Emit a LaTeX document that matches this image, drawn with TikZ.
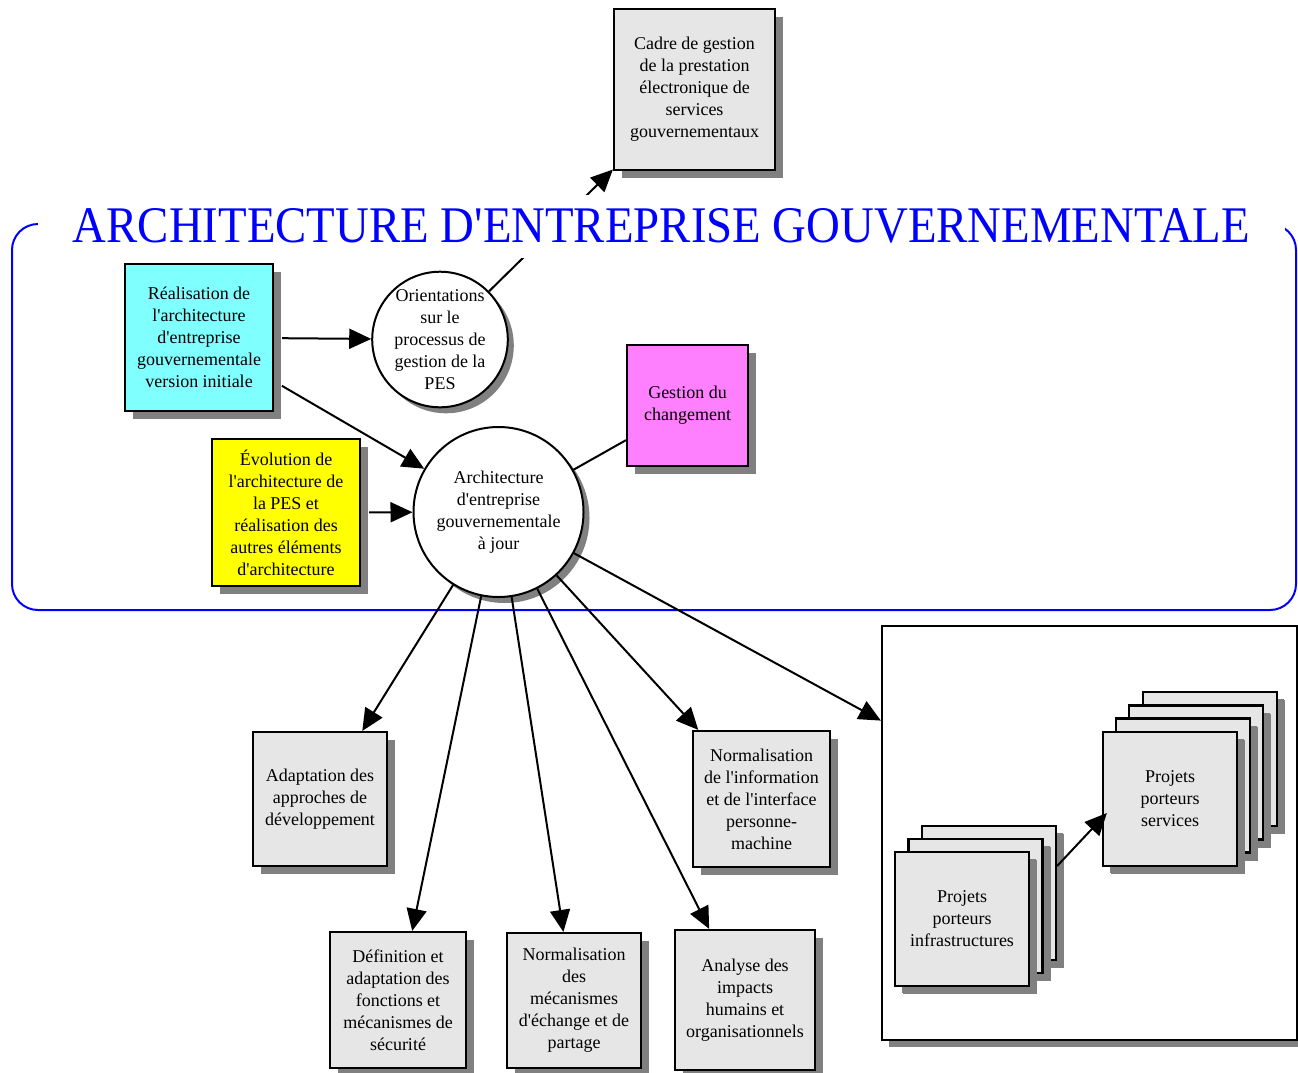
\documentclass[tikz,border=0pt]{standalone}
\usepackage{fontspec}
\setmainfont{Liberation Serif}[Ligatures=TeXOff]
\usetikzlibrary{arrows.meta,shadows}

\definecolor{boxgray}{RGB}{230,230,230}
\definecolor{shadowgray}{RGB}{128,128,128}
\definecolor{cyanfill}{RGB}{128,255,255}
\definecolor{yellowfill}{RGB}{255,255,0}
\definecolor{pinkfill}{RGB}{255,128,255}
\definecolor{titleblue}{RGB}{0,0,255}

\begin{document}
\begin{tikzpicture}[x=1pt,y=-1pt,
  every node/.style={font=\fontsize{18}{22}\selectfont, align=center, inner sep=0pt},
  boxshape/.style={rectangle, draw, line width=2.2pt, fill=boxgray,
    drop shadow={shadow xshift=8pt, shadow yshift=-8pt, fill=shadowgray, opacity=1}},
  stackbox/.style={boxshape, minimum width=134pt, minimum height=134pt,
    drop shadow={shadow xshift=7pt, shadow yshift=-7pt, fill=shadowgray, opacity=1}},
  roundnode/.style={circle, draw, line width=2pt, fill=white,
    drop shadow={shadow xshift=6pt, shadow yshift=-6pt, fill=shadowgray, opacity=1}},
  conn/.style={line width=2pt, -{Triangle[length=22pt,width=20pt]}},
  plainconn/.style={line width=2pt}
]
\useasboundingbox (0,0) rectangle (1298,1072);

% blue frame around the enterprise architecture
\draw[titleblue, line width=2pt, rounded corners=26pt] (12,224) rectangle (1296,610);

% top framework box
\node[boxshape, minimum width=161pt, minimum height=161pt] (cadre) at (694.5,89.5)
  {Cadre de gestion\\de la prestation\\électronique de\\services\\gouvernementaux};

% inputs
\node[boxshape, fill=cyanfill, minimum width=148pt, minimum height=147pt] (real) at (199,337.5)
  {Réalisation de\\l'architecture\\d'entreprise\\gouvernementale\\version initiale};
\node[boxshape, fill=yellowfill, minimum width=148pt, minimum height=147pt] (evol) at (286,512.5)
  {Évolution de\\l'architecture de\\la PES et\\réalisation des\\autres éléments\\d'architecture};
\node[boxshape, fill=pinkfill, minimum width=121pt, minimum height=121pt] (gest) at (687.5,405.5)
  {Gestion du\\changement};

% circles
\node[roundnode, minimum size=134pt] (orient) at (440,339.5)
  {Orientations\\sur le\\processus de\\gestion de la\\PES};
\node[roundnode, minimum size=170pt] (arch) at (498.5,512)
  {Architecture\\d'entreprise\\gouvernementale\\à jour};

% outputs
\node[boxshape, minimum width=134pt, minimum height=134pt] (adapt) at (320,799)
  {Adaptation des\\approches de\\développement};
\node[boxshape, minimum width=136pt, minimum height=136pt] (defi) at (398,1000)
  {Définition et\\adaptation des\\fonctions et\\mécanismes de\\sécurité};
\node[boxshape, minimum width=134pt, minimum height=135pt] (normech) at (574,1000.5)
  {Normalisation\\des\\mécanismes\\d'échange et de\\partage};
\node[boxshape, minimum width=140pt, minimum height=140pt] (analyse) at (745,1000)
  {Analyse des\\impacts\\humains et\\organisationnels};
\node[boxshape, minimum width=137pt, minimum height=136pt] (norminfo) at (761.5,799)
  {Normalisation\\de l'information\\et de l'interface\\personne-\\machine};

% projects container
\node[rectangle, draw, line width=2.2pt, fill=white, minimum width=415pt, minimum height=414pt,
  drop shadow={shadow xshift=7pt, shadow yshift=-7pt, fill=shadowgray, opacity=1}] (proj) at (1089.5,833) {};

% service projects stack
\node[stackbox] (s4) at (1210,759) {};
\node[stackbox] (s3) at (1196,772.5) {};
\node[stackbox] (s2) at (1183,785.5) {};
\node[stackbox] (s1) at (1170,799) {Projets\\porteurs\\services};

% infrastructure projects stack
\node[stackbox] (i3) at (989,893) {};
\node[stackbox] (i2) at (975.5,906) {};
\node[stackbox] (i1) at (962,919) {Projets\\porteurs\\infrastructures};

% connectors (those leaving a box start past its shadow)
\draw[conn, shorten <=8pt] (real) -- (orient);
\draw[conn, shorten <=9pt] (real) -- (arch);
\draw[conn, shorten <=8pt] (evol) -- (arch);
\draw[conn] (orient) -- (cadre);
\draw[plainconn] (gest) -- (arch);
\draw[conn] (arch) -- (adapt);
\draw[conn] (arch) -- (defi);
\draw[conn] (arch) -- (normech);
\draw[conn] (arch) -- (analyse);
\draw[conn] (arch) -- (norminfo);
\draw[conn] (arch) -- (proj);
\draw[conn] ([yshift=27pt]i3.east) -- ([xshift=5pt,yshift=-14pt]s1.west);

% title over the top edge of the frame
\node[fill=white, inner xsep=35pt, minimum height=63pt, text=titleblue] (title) at (661.5,226)
  {\resizebox{1177pt}{34pt}{\fontsize{50}{50}\selectfont ARCHITECTURE D'ENTREPRISE GOUVERNEMENTALE}};
\end{tikzpicture}
\end{document}
